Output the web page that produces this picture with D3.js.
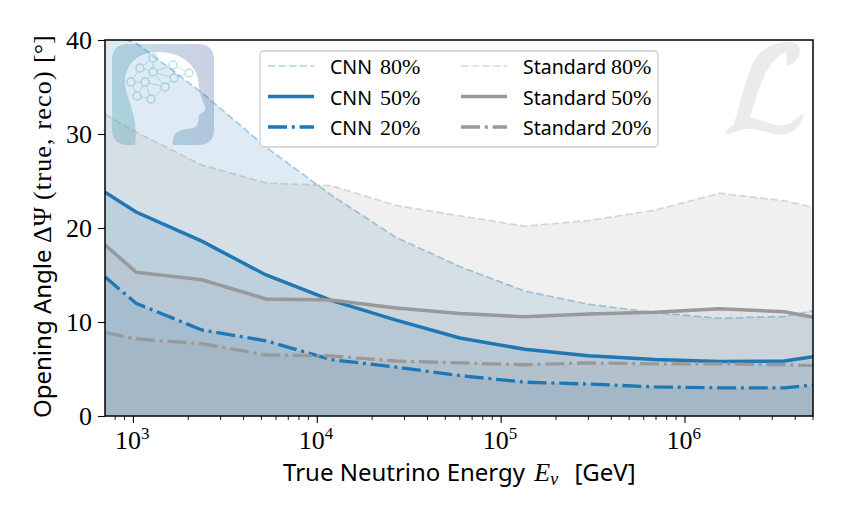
<!DOCTYPE html>
<html>
<head>
<meta charset="utf-8">
<script src="https://d3js.org/d3.v7.min.js"></script>
<style>
  html, body { margin: 0; background: #fff; }
  text { fill: #000; }
  .sans { font-family: "Noto Sans", "Lato", sans-serif; }
  .serif { font-family: "Liberation Serif", serif; }
</style>
</head>
<body>
<div id="chart"></div>
<script>
// energy bin centres [GeV]
const energy = [705, 1040, 2370, 5300, 12000, 27000, 60000, 135000, 300000, 690000, 1550000, 3500000, 5000000];

const cnn80 = [40.7, 39.7, 34.4, 28.6, 23.5, 19.0, 15.9, 13.3, 11.9, 11.0, 10.4, 10.6, 11.2];
const cnn50 = [23.8, 21.7, 18.6, 15.0, 12.3, 10.2, 8.3, 7.1, 6.4, 6.0, 5.8, 5.85, 6.3];
const cnn20 = [14.8, 12.0, 9.15, 8.0, 6.0, 5.2, 4.3, 3.6, 3.4, 3.1, 3.0, 3.0, 3.3];
const std80 = [32.1, 30.2, 26.7, 24.8, 24.5, 22.4, 21.3, 20.2, 20.8, 21.9, 23.7, 22.9, 22.2];
const std50 = [18.2, 15.3, 14.5, 12.45, 12.35, 11.5, 10.9, 10.55, 10.85, 11.05, 11.4, 11.1, 10.5];
const std20 = [8.9, 8.2, 7.7, 6.5, 6.4, 5.85, 5.65, 5.45, 5.65, 5.55, 5.55, 5.45, 5.35];

const yTicks = [0, 10, 20, 30, 40];
const xTicks = [1e3, 1e4, 1e5, 1e6];

const blue = "#1f77b4", gray = "#999999";
const styles = {
  p80: { w: 1.7, dash: "7.4,3.2", op: 0.35 },
  p50: { w: 3.5, dash: null, op: 1 },
  p20: { w: 3.3, dash: "19,4.8,3,4.8", op: 1 }
};

const series = [
  { name: "CNN", pct: "80%", values: cnn80, color: blue, st: styles.p80 },
  { name: "CNN", pct: "50%", values: cnn50, color: blue, st: styles.p50 },
  { name: "CNN", pct: "20%", values: cnn20, color: blue, st: styles.p20 },
  { name: "Standard", pct: "80%", values: std80, color: gray, st: styles.p80 },
  { name: "Standard", pct: "50%", values: std50, color: gray, st: styles.p50 },
  { name: "Standard", pct: "20%", values: std20, color: gray, st: styles.p20 }
];

const w = 847, h = 522;
const m = { l: 105, r: 813, t: 40, b: 416 };

const svg = d3.select("#chart").append("svg")
  .attr("width", w).attr("height", h)
  .style("display", "block");

const x = d3.scaleLog().domain([705, 5000000]).range([m.l, m.r]);
const y = d3.scaleLinear().domain([0, 40]).range([m.b, m.t]);

const defs = svg.append("defs");
defs.append("clipPath").attr("id", "plot")
  .append("rect").attr("x", m.l).attr("y", m.t).attr("width", m.r - m.l).attr("height", m.b - m.t);
const grad = defs.append("linearGradient").attr("id", "logoGrad")
  .attr("x1", "0").attr("x2", "1").attr("y1", "0.6").attr("y2", "0.3");
grad.append("stop").attr("offset", "0").attr("stop-color", "#c4e3e4");
grad.append("stop").attr("offset", "1").attr("stop-color", "#cbd0e4");

const plot = svg.append("g").attr("clip-path", "url(#plot)");

// watermark L
plot.append("path")
  .attr("transform", "translate(700,30) scale(0.3333)")
  .attr("fill", "#ebebeb")
  .attr("d", "M300,60 C298,36 275,34 250,37 C210,42 175,65 158,100 C138,145 122,215 102,282 C92,292 80,298 75,313 C95,312 120,296 150,296 C190,298 225,322 262,312 C292,302 306,275 312,252 C290,258 275,288 240,286 C205,284 185,268 150,262 C165,215 185,130 225,90 C238,76 250,68 258,68 C262,80 256,92 262,108 C285,100 300,85 300,60 Z");

// logo, sits under the fills
const logo = plot.append("g");
logo.append("path")
  .attr("fill", "url(#logoGrad)")
  .attr("fill-rule", "evenodd")
  .attr("d", "M128,44 H198 Q214,44 214,60 V129 Q214,145 198,145 H173 C172,138 174,132 182,130 C190,128 197,129 198,122 C199,118 198,116 200,114 C204,112 206,110 205,107 C203,100 200,96 199,88 C199,64 180,52 158,52 C138,52 125,64 125,82 C125,92 130,100 132,110 C135,120 137,132 135,145 H128 Q112,145 112,129 V60 Q112,44 128,44 Z");

const nodes = [[140,68],[153,58],[173,65],[189,73],[153,72],[174,78],[131,82],[145,82],[165,87],[137,96],[151,99]];
const links = [[0,1],[1,4],[0,4],[4,2],[2,3],[4,5],[2,5],[5,3],[5,8],[4,8],[0,6],[6,7],[7,4],[7,8],[6,9],[9,10],[10,8],[7,10],[9,7]];
logo.selectAll("line").data(links).join("line")
  .attr("x1", d => nodes[d[0]][0]).attr("y1", d => nodes[d[0]][1])
  .attr("x2", d => nodes[d[1]][0]).attr("y2", d => nodes[d[1]][1])
  .attr("stroke", "#c4e3e6").attr("stroke-width", 1);
logo.selectAll("circle").data(nodes).join("circle")
  .attr("cx", d => d[0]).attr("cy", d => d[1]).attr("r", 4)
  .attr("fill", "#fff").attr("stroke", "#b8dfe3").attr("stroke-width", 1.3);

// fills
const area = d3.area().x((d, i) => x(energy[i])).y0(y(0)).y1(d => y(d));
const line = d3.line().x((d, i) => x(energy[i])).y(d => y(d));

plot.selectAll("path.fill").data(series).join("path")
  .attr("class", "fill")
  .attr("d", d => area(d.values))
  .attr("fill", d => d.color)
  .attr("fill-opacity", 0.15);

plot.selectAll("path.curve").data(series).join("path")
  .attr("class", "curve")
  .attr("d", d => line(d.values))
  .attr("fill", "none")
  .attr("stroke", d => d.color)
  .attr("stroke-width", d => d.st.w)
  .attr("stroke-dasharray", d => d.st.dash)
  .attr("stroke-opacity", d => d.st.op);

// axes
const xAxis = d3.axisBottom(x).tickValues(xTicks).tickSize(7).tickPadding(6).tickFormat("");
const xg = svg.append("g").attr("transform", `translate(0,${m.b})`).call(xAxis);
xg.select(".domain").remove();
xg.selectAll("line").attr("stroke", "#000").attr("stroke-width", 1.1);

const minor = [];
for (let e = 2; e <= 6; e++) {
  for (let k = 2; k <= 9; k++) {
    const v = k * Math.pow(10, e);
    if (v >= x.domain()[0] && v <= x.domain()[1]) minor.push(v);
  }
}
svg.append("g").selectAll("line").data(minor).join("line")
  .attr("x1", d => x(d)).attr("x2", d => x(d))
  .attr("y1", m.b).attr("y2", m.b + 4)
  .attr("stroke", "#000").attr("stroke-width", 0.9);

xTicks.forEach(t => {
  const lab = svg.append("text").attr("class", "serif")
    .attr("x", x(t) - 18).attr("y", 449).attr("font-size", 26);
  lab.append("tspan").text("10");
  lab.append("tspan").attr("dy", -10).attr("font-size", 17).text(Math.log10(t));
});

const yAxis = d3.axisLeft(y).tickValues(yTicks).tickSize(7).tickPadding(6);
const yg = svg.append("g").attr("transform", `translate(${m.l},0)`).call(yAxis);
yg.select(".domain").remove();
yg.selectAll("line").attr("stroke", "#000").attr("stroke-width", 1.1);
yg.selectAll("text").attr("class", "serif").attr("font-size", 26).attr("font-family", "Liberation Serif").attr("fill", "#000");

svg.append("rect")
  .attr("x", m.l).attr("y", m.t).attr("width", m.r - m.l).attr("height", m.b - m.t)
  .attr("fill", "none").attr("stroke", "#000").attr("stroke-width", 1.5);

// labels
const xLab = svg.append("text").attr("x", 283).attr("y", 481);
xLab.append("tspan").attr("class", "sans").attr("font-size", 24).text("True Neutrino Energy ");
xLab.append("tspan").attr("class", "serif").attr("font-size", 26).attr("font-style", "italic").attr("dx", 3).text("E");
xLab.append("tspan").attr("class", "serif").attr("font-size", 18).attr("font-style", "italic").attr("dy", 4).text("ν");
xLab.append("tspan").attr("class", "sans").attr("font-size", 24).attr("dy", -4).attr("dx", 10).text(" [GeV]");

// y label parts are placed one by one, the spacing of the math is wide
const yLab = svg.append("text").attr("transform", "translate(51,0) rotate(-90)");
yLab.append("tspan").attr("class", "sans").attr("font-size", 24).attr("x", -418).text("Opening Angle");
yLab.append("tspan").attr("class", "serif").attr("font-size", 26).attr("x", -243).text("ΔΨ");
yLab.append("tspan").attr("class", "serif").attr("font-size", 26).attr("x", -200).attr("letter-spacing", 1.2).text("(true, reco)");
yLab.append("tspan").attr("class", "serif").attr("font-size", 26).attr("x", -63).text("[°]");

// legend
svg.append("rect")
  .attr("x", 260).attr("y", 51).attr("width", 398).attr("height", 96).attr("rx", 4)
  .attr("fill", "#fff").attr("fill-opacity", 0.9)
  .attr("stroke", "#ccc").attr("stroke-width", 1.3);

const legendCols = d3.scaleOrdinal().domain(["CNN", "Standard"]).range([268, 461]);
const legendRows = d3.scaleOrdinal().domain(["80%", "50%", "20%"]).range([66, 96.5, 127]);

const leg = svg.append("g").selectAll("g").data(series).join("g")
  .attr("transform", d => `translate(${legendCols(d.name)},${legendRows(d.pct)})`);
leg.append("line")
  .attr("x1", 0).attr("x2", 46)
  .attr("stroke", d => d.color)
  .attr("stroke-width", d => d.st.w)
  .attr("stroke-dasharray", d => d.st.dash)
  .attr("stroke-opacity", d => d.st.op);
const legText = leg.append("text").attr("y", 8);
legText.append("tspan").attr("class", "sans").attr("font-size", 19.5).attr("x", 62).text(d => d.name);
legText.append("tspan").attr("class", "serif").attr("font-size", 22).attr("x", d => d.name === "CNN" ? 112 : 150).text(d => d.pct);
</script>
</body>
</html>
